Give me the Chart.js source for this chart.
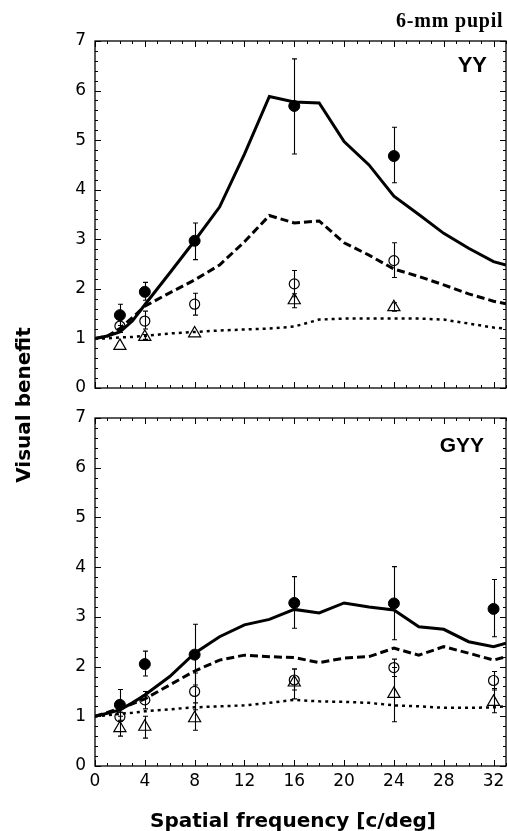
<!DOCTYPE html>
<html>
<head>
  <title>Visual benefit - 6-mm pupil</title>
  <script src="https://cdn.jsdelivr.net/npm/chart.js"></script>
  <style>
    html, body { margin: 0; padding: 0; background: #fff; }
    #wrap { position: relative; width: 507px; height: 831px; overflow: hidden; }
    canvas { position: absolute; left: 0; top: 0; }
    .lbl { position: absolute; white-space: nowrap; color: #000; }
  </style>
</head>
<body>
<div id="wrap">
  <canvas id="topChart" width="507" height="831"></canvas>
  <canvas id="bottomChart" width="507" height="831"></canvas>
  <div class="lbl" style="left:396px; top:10px; font:bold 20px 'Liberation Serif'; line-height:20px; letter-spacing:0.8px;">6-mm pupil</div>
  <div class="lbl" style="right:20px; top:54px; font:bold 22px 'Liberation Sans'; line-height:22px;">YY</div>
  <div class="lbl" style="right:23px; top:434px; font:bold 21px 'Liberation Sans'; line-height:21px;">GYY</div>
  <div class="lbl" style="left:150px; top:810px; font:bold 20px 'DejaVu Sans'; line-height:20px;">Spatial frequency [c/deg]</div>
  <div class="lbl" style="left:-77px; top:395px; width:200px; text-align:center; font:bold 20px 'DejaVu Sans'; line-height:20px; transform:rotate(-90deg);">Visual benefit</div>
</div>

<script>
  // model curves (x = spatial frequency, c/deg)
  var modelFreq = [0, 1, 2, 3, 4, 6, 8, 10, 12, 14, 16, 18, 20, 22, 24, 26, 28, 30, 32, 33];

  var yySolid  = [1.0, 1.05, 1.13, 1.35, 1.68, 2.32, 2.97, 3.65, 4.72, 5.88, 5.77, 5.75, 4.97, 4.5, 3.87, 3.5, 3.12, 2.82, 2.55, 2.48];
  var yyDashed = [1.0, 1.05, 1.2, 1.42, 1.65, 1.92, 2.18, 2.48, 2.95, 3.48, 3.33, 3.37, 2.93, 2.68, 2.4, 2.25, 2.08, 1.9, 1.75, 1.7];
  var yyDotted = [1.0, 1.0, 1.02, 1.03, 1.05, 1.1, 1.13, 1.16, 1.18, 1.2, 1.24, 1.38, 1.4, 1.4, 1.4, 1.4, 1.38, 1.3, 1.22, 1.2];

  var gyySolid  = [1.0, 1.06, 1.13, 1.27, 1.43, 1.8, 2.27, 2.6, 2.84, 2.95, 3.15, 3.08, 3.28, 3.2, 3.14, 2.8, 2.75, 2.5, 2.4, 2.47];
  var gyyDashed = [1.0, 1.08, 1.16, 1.25, 1.35, 1.63, 1.91, 2.13, 2.23, 2.2, 2.18, 2.08, 2.17, 2.2, 2.37, 2.23, 2.4, 2.27, 2.13, 2.2];
  var gyyDotted = [1.0, 1.02, 1.05, 1.07, 1.1, 1.14, 1.18, 1.2, 1.22, 1.27, 1.33, 1.3, 1.29, 1.27, 1.22, 1.2, 1.17, 1.17, 1.18, 1.2];

  // measured points with error bars
  var yyFreq = [2, 4, 8, 16, 24];
  var yyFilled   = [1.47, 1.94, 2.97, 5.69, 4.68];
  var yyFilledLo = [1.26, 1.77, 2.59, 4.72, 4.14];
  var yyFilledHi = [1.69, 2.13, 3.33, 6.64, 5.26];
  var yyOpen     = [1.25, 1.35, 1.69, 2.1, 2.57];
  var yyOpenLo   = [1.12, 1.19, 1.47, 1.84, 2.23];
  var yyOpenHi   = [1.38, 1.55, 1.91, 2.37, 2.93];
  var yyTri      = [0.85, 1.03, 1.1, 1.77, 1.63];
  var yyTriLo    = [0.85, 0.98, 1.1, 1.62, 1.55];
  var yyTriHi    = [0.85, 1.08, 1.1, 1.9, 1.72];

  var gyyFreq = [2, 4, 8, 16, 24, 32];
  var gyyFilled   = [1.23, 2.05, 2.24, 3.28, 3.27, 3.16];
  var gyyFilledLo = [0.92, 1.81, 1.63, 2.77, 2.54, 2.6];
  var gyyFilledHi = [1.54, 2.31, 2.85, 3.81, 4.01, 3.75];
  var gyyOpen     = [0.99, 1.33, 1.5, 1.73, 1.98, 1.72];
  var gyyOpenLo   = [0.9, 1.15, 1.13, 1.53, 1.8, 1.53];
  var gyyOpenHi   = [1.08, 1.5, 1.87, 1.95, 2.15, 1.9];
  var gyyTri      = [0.76, 0.79, 0.96, 1.68, 1.45, 1.29];
  var gyyTriLo    = [0.6, 0.56, 0.72, 1.35, 0.89, 1.07];
  var gyyTriHi    = [1.0, 1.0, 1.27, 1.95, 1.98, 1.56];

  var yTicks = [0, 1, 2, 3, 4, 5, 6, 7];
  var xTicks = [0, 4, 8, 12, 16, 20, 24, 28, 32];

  function pts(xs, ys) {
    return xs.map(function (x, i) { return { x: x, y: ys[i] }; });
  }

  function curve(vals, dash, width) {
    return {
      data: pts(modelFreq, vals), showLine: true, pointRadius: 0,
      borderColor: '#000', borderWidth: width, borderDash: dash, tension: 0
    };
  }

  function marks(xs, vals, lo, hi, style, filled, r) {
    return {
      data: pts(xs, vals), showLine: false, errLo: lo, errHi: hi,
      pointStyle: style, pointRadius: r,
      pointBackgroundColor: filled ? '#000' : 'rgba(0,0,0,0)',
      pointBorderColor: '#000', pointBorderWidth: filled ? 1 : 1.2
    };
  }

  // error bars, drawn below the markers
  var errorBars = {
    id: 'errorBars',
    beforeDatasetsDraw: function (chart) {
      var ctx = chart.ctx, xs = chart.scales.x, ys = chart.scales.y;
      ctx.save();
      ctx.strokeStyle = '#000';
      ctx.lineWidth = 1.1;
      chart.data.datasets.forEach(function (ds) {
        if (!ds.errLo) return;
        ds.data.forEach(function (p, i) {
          if (ds.errLo[i] === ds.errHi[i]) return;
          var px = Math.round(xs.getPixelForValue(p.x)) + 0.5;
          var y1 = ys.getPixelForValue(ds.errLo[i]);
          var y2 = ys.getPixelForValue(ds.errHi[i]);
          ctx.beginPath();
          ctx.moveTo(px, y1); ctx.lineTo(px, y2);
          ctx.moveTo(px - 2.5, y1); ctx.lineTo(px + 2.5, y1);
          ctx.moveTo(px - 2.5, y2); ctx.lineTo(px + 2.5, y2);
          ctx.stroke();
        });
      });
      ctx.restore();
    }
  };

  // box round the plot with inward ticks on all four sides
  var frame = {
    id: 'frame',
    afterDatasetsDraw: function (chart) {
      var ctx = chart.ctx, a = chart.chartArea;
      var xs = chart.scales.x, ys = chart.scales.y;
      ctx.save();
      ctx.strokeStyle = '#000';
      ctx.lineWidth = 1;
      ctx.beginPath();
      for (var v = 0; v <= 33; v++) {
        var px = Math.round(xs.getPixelForValue(v)) + 0.5;
        var len = v % 4 === 0 ? 6 : 3;
        ctx.moveTo(px, a.bottom); ctx.lineTo(px, a.bottom - len);
        ctx.moveTo(px, a.top); ctx.lineTo(px, a.top + len);
      }
      for (var k = 0; k <= 35; k++) {
        var py = Math.round(ys.getPixelForValue(k / 5)) + 0.5;
        var l2 = k % 5 === 0 ? 6 : 3;
        ctx.moveTo(a.left, py); ctx.lineTo(a.left + l2, py);
        ctx.moveTo(a.right, py); ctx.lineTo(a.right - l2, py);
      }
      ctx.stroke();
      ctx.lineWidth = 1.3;
      ctx.strokeRect(a.left, a.top, a.right - a.left, a.bottom - a.top);
      ctx.restore();
    }
  };

  function noPad(s) {
    s.paddingLeft = 0; s.paddingRight = 0; s.paddingTop = 0; s.paddingBottom = 0;
  }

  function makeChart(id, datasets, top, bottomSpace, showX) {
    var tickFont = { family: 'DejaVu Sans', size: 17 };
    return new Chart(document.getElementById(id), {
      type: 'scatter',
      data: { datasets: datasets },
      options: {
        responsive: false, animation: false, devicePixelRatio: 1,
        layout: { autoPadding: false, padding: { top: top, right: 1, left: 0, bottom: 0 } },
        plugins: { legend: { display: false }, tooltip: { enabled: false } },
        scales: {
          x: {
            type: 'linear', min: 0, max: 33,
            grid: { display: false, drawTicks: false }, border: { display: false },
            afterBuildTicks: function (s) { s.ticks = xTicks.map(function (v) { return { value: v }; }); },
            ticks: { display: showX, color: '#000', font: tickFont, padding: 5, maxRotation: 0 },
            afterFit: function (s) { s.height = bottomSpace; noPad(s); }
          },
          y: {
            min: 0, max: 7,
            grid: { display: false, drawTicks: false }, border: { display: false },
            afterBuildTicks: function (s) { s.ticks = yTicks.map(function (v) { return { value: v }; }); },
            ticks: { color: '#000', font: tickFont, padding: 9 },
            afterFit: function (s) { s.width = 95; noPad(s); }
          }
        }
      },
      plugins: [errorBars, frame]
    });
  }

  makeChart('topChart', [
    marks(yyFreq, yyFilled, yyFilledLo, yyFilledHi, 'circle', true, 5.5),
    marks(yyFreq, yyOpen, yyOpenLo, yyOpenHi, 'circle', false, 5),
    marks(yyFreq, yyTri, yyTriLo, yyTriHi, 'triangle', false, 7),
    curve(yySolid, [], 3),
    curve(yyDashed, [8, 4], 3),
    curve(yyDotted, [3, 4], 2.5)
  ], 41, 831 - 388, false);

  makeChart('bottomChart', [
    marks(gyyFreq, gyyFilled, gyyFilledLo, gyyFilledHi, 'circle', true, 5.5),
    marks(gyyFreq, gyyOpen, gyyOpenLo, gyyOpenHi, 'circle', false, 5),
    marks(gyyFreq, gyyTri, gyyTriLo, gyyTriHi, 'triangle', false, 7),
    curve(gyySolid, [], 3),
    curve(gyyDashed, [8, 4], 3),
    curve(gyyDotted, [3, 4], 2.5)
  ], 418, 831 - 766, true);
</script>
</body>
</html>
